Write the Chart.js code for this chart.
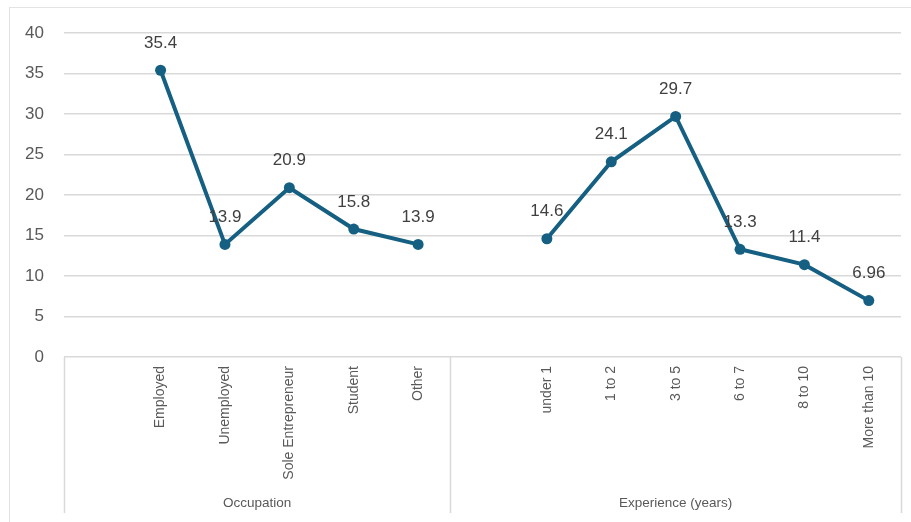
<!DOCTYPE html>
<html>
<head>
<meta charset="utf-8">
<script src="https://cdn.jsdelivr.net/npm/chart.js@4/dist/chart.umd.min.js"></script>
<style>
  html, body { margin: 0; padding: 0; background: #fff; }
  #wrap { width: 911px; height: 522px; position: relative; }
</style>
</head>
<body>
<div id="wrap"><canvas id="lineChart"></canvas></div>
<script>
// categories: a blank slot opens each group, like the spreadsheet layout
const categories = ['', 'Employed', 'Unemployed', 'Sole Entrepreneur', 'Student', 'Other',
                    '', 'under 1', '1 to 2', '3 to 5', '6 to 7', '8 to 10', 'More than 10'];
const values = [null, 35.4, 13.9, 20.9, 15.8, 13.9,
                null, 14.6, 24.1, 29.7, 13.3, 11.4, 6.96];
const groups = [
    { label: 'Occupation', from: 0, to: 5 },
    { label: 'Experience (years)', from: 6, to: 12 }
];
const yTicks = [0, 5, 10, 15, 20, 25, 30, 35, 40];

const FONT = "'Liberation Sans', Arial, sans-serif";
const LINE = '#156082';
const GRID = '#d9d9d9';
const TEXT = '#595959';

// frame, group separators and group names under the category labels
const groupAxis = {
    id: 'groupAxis',
    beforeDraw(chart) {
        const ctx = chart.ctx;
        ctx.save();
        ctx.strokeStyle = '#e3e3e3';
        ctx.lineWidth = 1;
        ctx.strokeRect(9.5, 7.5, 1000, 1000);
        ctx.restore();
    },
    afterDraw(chart) {
        const ctx = chart.ctx;
        const x = chart.scales.x;
        const top = chart.chartArea.bottom;
        const bottom = 513;
        ctx.save();
        ctx.strokeStyle = GRID;
        ctx.lineWidth = 1.5;
        const edges = [groups[0].from - 0.5];
        groups.forEach(g => edges.push(g.to + 0.5));
        edges.forEach(v => {
            const px = Math.round(x.getPixelForValue(v)) + 0.5;
            ctx.beginPath();
            ctx.moveTo(px, top);
            ctx.lineTo(px, bottom);
            ctx.stroke();
        });
        ctx.fillStyle = TEXT;
        ctx.font = '13.5px ' + FONT;
        ctx.textAlign = 'center';
        ctx.textBaseline = 'middle';
        groups.forEach(g => {
            const cx = (x.getPixelForValue(g.from - 0.5) + x.getPixelForValue(g.to + 0.5)) / 2;
            ctx.fillText(g.label, cx, 503);
        });
        ctx.restore();
    },
    afterDatasetsDraw(chart) {
        // value labels above each point
        const ctx = chart.ctx;
        const meta = chart.getDatasetMeta(0);
        ctx.save();
        ctx.fillStyle = '#404040';
        ctx.font = '17px ' + FONT;
        ctx.textAlign = 'center';
        ctx.textBaseline = 'middle';
        meta.data.forEach((pt, i) => {
            const v = values[i];
            if (v === null) return;
            ctx.fillText(String(v), pt.x, pt.y - 27);
        });
        ctx.restore();
    }
};

new Chart(document.getElementById('lineChart'), {
    type: 'line',
    data: {
        labels: categories,
        datasets: [{
            data: values,
            borderColor: LINE,
            backgroundColor: LINE,
            borderWidth: 4,
            pointRadius: 5.5,
            pointBackgroundColor: LINE,
            pointBorderColor: LINE,
            pointBorderWidth: 0,
            tension: 0,
            spanGaps: false
        }]
    },
    options: {
        responsive: true,
        maintainAspectRatio: false,
        animation: false,
        layout: { padding: { top: 33, right: 10, left: 0, bottom: 0 } },
        plugins: { legend: { display: false }, tooltip: { enabled: false } },
        scales: {
            x: {
                type: 'category',
                offset: true,
                grid: { display: false, drawTicks: false },
                border: { display: false },
                afterFit(scale) { scale.height = 165; },
                ticks: {
                    autoSkip: false,
                    minRotation: 90,
                    maxRotation: 90,
                    padding: 9,
                    color: TEXT,
                    font: { family: FONT, size: 14 }
                }
            },
            y: {
                min: 0,
                max: 40,
                afterFit(scale) { scale.width = 64; },
                afterBuildTicks(scale) { scale.ticks = yTicks.map(v => ({ value: v })); },
                grid: { color: GRID, lineWidth: 1.5, drawTicks: false },
                border: { display: false },
                ticks: {
                    padding: 20,
                    color: TEXT,
                    font: { family: FONT, size: 17 }
                }
            }
        }
    },
    plugins: [groupAxis]
});
</script>
</body>
</html>
